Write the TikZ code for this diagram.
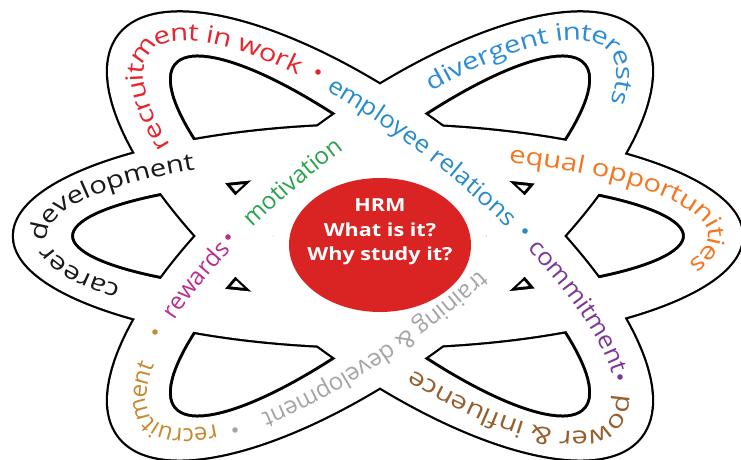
\documentclass[tikz,border=0pt]{standalone}
\usepackage{fontspec}
\setmainfont{Open Sans}
\newfontfamily\ringn[FakeStretch=1.0]{Open Sans}
\newfontfamily\ringm[FakeStretch=1.07]{Open Sans}
\newfontfamily\ringw[FakeStretch=1.22]{Open Sans}
\newfontfamily\hrmf[FakeStretch=1.2]{Open Sans}
\newcommand\rn{\ringn\fontsize{24}{28}\selectfont}
\newcommand\rmid{\ringm\fontsize{24}{28}\selectfont}
\newcommand\rw{\ringw\fontsize{24}{28}\selectfont}
\usetikzlibrary{decorations.text}
\definecolor{cred}{RGB}{232,36,46}
\definecolor{cblue}{RGB}{38,140,200}
\definecolor{cblueb}{RGB}{45,140,215}
\definecolor{corange}{RGB}{245,118,32}
\definecolor{cblack}{RGB}{25,25,25}
\definecolor{cgreen}{RGB}{40,165,75}
\definecolor{cmagenta}{RGB}{185,45,140}
\definecolor{cgold}{RGB}{198,138,48}
\definecolor{cgray}{RGB}{165,165,165}
\definecolor{cpurple}{RGB}{125,55,150}
\definecolor{cbrown}{RGB}{150,95,45}
\definecolor{cfill}{RGB}{218,36,36}
\tikzset{
  ellarc/.style n args={7}{insert path={plot[domain=0:1,samples=160,variable=\s]
    ({#1+#3*cos(#6+(#7-#6)*\s)*cos(#5)-#4*sin(#6+(#7-#6)*\s)*sin(#5)},
     {#2+#3*cos(#6+(#7-#6)*\s)*sin(#5)+#4*sin(#6+(#7-#6)*\s)*cos(#5)})}},
  outerline/.style={line width=4.5pt},
  innerline/.style={line width=6pt},
  band/.style={fill=white, even odd rule},
  bullet/.style={fill=#1},
}
\begin{document}
\begin{tikzpicture}[x=1pt,y=1pt]
\useasboundingbox (0,0) rectangle (741,460);
% ring outlines
\draw[outerline] (378,224) circle[x radius=364, y radius=111];
\draw[outerline] (380,224) circle[x radius=329, y radius=125, rotate=-37.5];
\draw[outerline] (380,224) circle[x radius=329, y radius=125, rotate=37.5];
\draw[innerline] (378,224) circle[x radius=307, y radius=61];
\draw[innerline] (380,224) circle[x radius=269, y radius=72, rotate=-40];
\draw[innerline] (380,224) circle[x radius=269, y radius=72, rotate=40];
% white bands
\fill[band] (378,224) circle[x radius=364, y radius=111] (378,224) circle[x radius=307, y radius=61];
\fill[band] (380,224) circle[x radius=329, y radius=125, rotate=-37.5] (380,224) circle[x radius=269, y radius=72, rotate=-40];
\fill[band] (380,224) circle[x radius=329, y radius=125, rotate=37.5] (380,224) circle[x radius=269, y radius=72, rotate=40];
% centre
\fill[white] (380,224) circle[x radius=106, y radius=66];
\fill[cfill] (380,215) circle[x radius=91, y radius=67];
\node[font=\hrmf\bfseries\fontsize{18}{24.5}\selectfont, text=white, align=center] (hrm) at (380,228) {HRM\\What is it?\\Why study it?};
% ring A texts
\path[decorate, decoration={text along path, text align=left, raise=-5pt, text={|\rw\color{cred}|recruitment in work}}, ellarc={380}{224}{299}{95.5}{-38.5}{222}{90}];
\path[decorate, decoration={text along path, text align=left, raise=-5pt, text={|\rmid\color{cblue}|employee relations}}, ellarc={380}{224}{299}{95.5}{-38.5}{116.5}{40}];
\path[decorate, decoration={text along path, text align=left, raise=-5pt, text={|\rmid\color{cpurple}|commitment}}, ellarc={380}{224}{299}{95.5}{-38.5}{65.5}{0}];
\path[decorate, decoration={text along path, text align=left, raise=-5pt, text={|\rw\color{cbrown}|power {\&} influence}}, ellarc={380}{224}{299}{95.5}{-38.5}{15.5}{-110}];
% ring B texts
\path[decorate, decoration={text along path, text align=left, raise=-5pt, text={|\rn\color{cgray}|training {\&} development}}, ellarc={380}{224}{299}{95.5}{38.5}{281}{190}];
\path[decorate, decoration={text along path, text align=left, raise=-5pt, text={|\rn\color{cgold}|recruitment}}, ellarc={380}{224}{296}{92}{38.5}{213}{140}];
\path[decorate, decoration={text along path, text align=left, raise=-5pt, text={|\rn\color{cmagenta}|rewards}}, ellarc={380}{224}{299}{95.5}{38.5}{136}{100}];
\path[decorate, decoration={text along path, text align=left, raise=-5pt, text={|\rn\color{cgreen}|motivation}}, ellarc={380}{224}{299}{95.5}{38.5}{108.5}{60}];
\path[decorate, decoration={text along path, text align=left, raise=-5pt, text={|\rw\color{cblueb}|divergent interests}}, ellarc={380}{224}{299}{95.5}{38.5}{64}{-70}];
% horizontal ring texts
\path[decorate, decoration={text along path, text align=left, raise=-5pt, text={|\rw\color{cblack}|career development}}, ellarc={378}{224}{335.5}{85.5}{0}{219.5}{90}];
\path[decorate, decoration={text along path, text align=left, raise=-5pt, text={|\rw\color{corange}|equal opportunities}}, ellarc={378}{224}{335.5}{85.5}{0}{67}{-70}];
% bullets
\fill[bullet=cred] (318,388) circle[radius=2.8];
\fill[bullet=cblue] (525,229) circle[radius=2.8];
\fill[bullet=cpurple] (620,83) circle[radius=2.8];
\fill[bullet=cgold] (155,128) circle[radius=2.8];
\fill[bullet=cmagenta] (228,223) circle[radius=2.8];
\fill[bullet=cgray] (235,30) circle[radius=2.8];
\end{tikzpicture}
\end{document}
